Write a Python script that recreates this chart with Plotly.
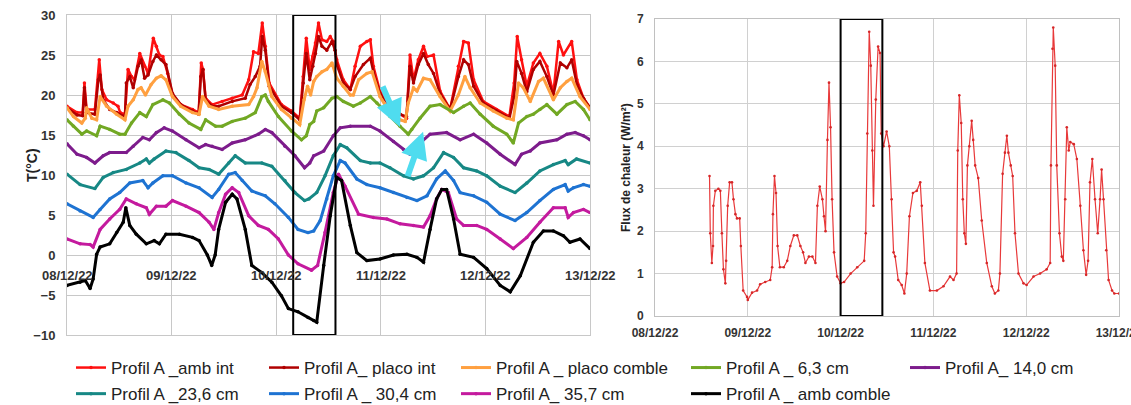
import plotly.graph_objects as go

W, H = 1131, 405

# ---------------- data ----------------
day_hours = [0, 24, 48, 72, 96, 120]
day_labels = ["08/12/22", "09/12/22", "10/12/22", "11/12/22", "12/12/22", "13/12/22"]

names = ["Profil A _amb int", "Profil A_ placo int", "Profil A _ placo comble",
         "Profil A _ 6,3 cm", "Profil A_ 14,0 cm", "Profil A _23,6 cm",
         "Profil A _ 30,4 cm", "Profil A_ 35,7 cm", "Profil A _ amb comble"]

amb_int_h = [0, 2.3, 3.6, 4.0, 4.5, 6.4, 7.4, 8.0, 9.1, 10.6, 11.7, 12.2, 13.3, 14.0, 14.8, 15.5, 16.7, 17.8, 18.6, 19.8,
             20.5, 21.2, 22.0, 23.1, 24.2, 26.1, 28.8, 30.2, 30.8, 31.2, 31.8, 33.3, 35.6, 37.9, 40.2, 41.7, 42.8, 43.9, 44.8, 45.5,
             46.4, 49.2, 51.5, 53.4, 54.2, 54.9, 55.7, 56.4, 57.0, 57.7, 58.5, 59.6, 60.4, 61.1, 61.9, 63.4, 65.0, 66.1, 67.3, 68.8,
             69.6, 70.3, 71.8, 74.1, 76.4, 77.9, 78.7, 79.5, 80.6, 81.8, 82.6, 84.1, 85.6, 87.9, 89.8, 91.0, 92.1, 93.3, 95.5, 98.5,
             101.5, 102.6, 103.3, 104.3, 105.5, 107.0, 108.5, 110.1, 111.6, 112.8, 113.9, 115.8, 117.0, 118.5, 120]
amb_int_t = [18.6, 17.8, 17.8, 21.5, 18.2, 18.2, 24.4, 20.7, 19.4, 19.0, 18.6, 17.8, 17.6, 23.2, 22.3, 21.9, 25.2, 23.6, 22.7, 27.1,
             26.1, 25.0, 24.8, 22.7, 20.0, 18.8, 18.2, 17.8, 24.0, 23.2, 19.6, 18.8, 19.2, 19.6, 20.0, 21.9, 25.4, 25.2, 29.0, 26.1,
             21.5, 18.8, 18.0, 17.1, 22.3, 27.1, 23.2, 24.8, 26.5, 29.0, 26.9, 26.7, 27.3, 26.7, 24.4, 21.9, 20.7, 23.6, 26.1, 26.7,
             26.9, 23.6, 20.5, 18.6, 17.6, 17.1, 25.0, 21.9, 24.4, 26.1, 24.8, 25.0, 20.5, 18.2, 23.6, 26.7, 26.5, 21.9, 19.2, 18.2,
             17.3, 21.5, 27.3, 24.4, 21.1, 24.0, 25.2, 23.6, 20.2, 26.7, 25.0, 26.7, 21.9, 19.6, 18.4]

placo_int_h = [0, 2.3, 3.6, 4.0, 4.5, 6.4, 7.2, 7.6, 8.3, 9.8, 11.4, 13.3, 13.6, 14.4, 15.2, 16.3, 17.0, 17.8, 18.6, 19.7,
               20.5, 21.6, 22.7, 24.2, 26.1, 28.8, 30.2, 30.7, 31.2, 31.8, 33.3, 34.8, 37.9, 40.9, 42.0, 43.2, 44.3, 44.8, 45.5, 46.4,
               49.2, 51.5, 53.4, 54.2, 54.9, 55.7, 56.4, 57.0, 57.7, 58.5, 59.6, 60.8, 61.5, 61.9, 63.4, 65.0, 66.1, 68.0, 69.6, 70.3,
               71.8, 74.1, 76.4, 77.9, 78.7, 79.5, 80.6, 81.8, 82.9, 84.1, 85.6, 87.9, 89.8, 91.0, 92.1, 93.3, 95.5, 98.5, 101.5, 102.6,
               103.2, 104.3, 105.5, 107.0, 108.5, 110.1, 111.6, 113.2, 114.7, 115.8, 117.0, 118.5, 120]
placo_int_t = [18.4, 17.5, 17.4, 20.9, 17.8, 17.6, 21.9, 22.5, 19.4, 18.2, 17.8, 17.3, 21.5, 22.3, 20.9, 23.6, 24.4, 22.1, 22.5, 24.2,
               25.0, 24.4, 23.8, 20.2, 18.8, 18.0, 17.6, 22.3, 23.2, 19.4, 18.6, 18.6, 19.2, 19.6, 21.3, 22.3, 23.6, 27.3, 25.6, 21.1,
               18.6, 17.8, 16.9, 21.5, 25.2, 21.9, 23.6, 25.2, 27.3, 26.1, 25.6, 26.7, 25.6, 23.8, 21.5, 20.7, 22.3, 23.8, 24.6, 22.9,
               20.2, 18.6, 17.6, 17.3, 23.6, 21.5, 23.8, 25.2, 23.8, 22.7, 20.2, 18.2, 22.3, 24.4, 23.8, 21.1, 19.0, 18.0, 17.1, 19.8,
               24.2, 22.7, 20.4, 23.2, 24.2, 22.3, 20.0, 24.0, 23.4, 24.4, 21.3, 19.6, 18.4]

placo_comble_h = [0, 1.5, 3.4, 4.2, 4.5, 5.7, 6.8, 7.6, 9.1, 11.4, 13.3, 14.0, 15.2, 16.3, 17.0, 18.0, 19.3, 20.5, 21.6, 22.7,
                  24.2, 26.1, 28.8, 30.3, 31.1, 32.6, 34.8, 37.9, 41.7, 42.8, 43.6, 44.7, 45.5, 47.0, 49.2, 51.5, 53.4, 54.4, 55.2, 55.9,
                  56.6, 57.3, 58.5, 59.6, 60.8, 61.9, 63.4, 65.0, 65.7, 66.9, 68.8, 70.0, 71.8, 73.4, 76.4, 77.6, 78.3, 79.5, 80.3, 81.8,
                  83.3, 85.6, 87.9, 89.8, 91.3, 92.5, 94.8, 97.8, 100.9, 102.4, 103.6, 104.7, 106.3, 108.2, 109.3, 111.6, 113.2, 114.7,
                  115.8, 117.7, 120]
placo_comble_t = [18.4, 17.3, 16.5, 17.1, 18.4, 17.1, 16.9, 19.8, 18.6, 17.6, 16.9, 18.6, 19.4, 20.7, 20.9, 20.0, 21.3, 22.1, 22.4, 21.9,
                  19.8, 18.6, 17.8, 17.6, 19.8, 18.6, 18.2, 18.6, 18.8, 19.8, 20.9, 24.2, 22.9, 19.8, 18.2, 17.1, 16.3, 19.4, 21.1, 20.0,
                  21.7, 22.3, 22.9, 23.2, 24.0, 22.1, 21.1, 20.0, 20.0, 21.9, 22.7, 22.9, 19.8, 18.4, 16.9, 16.7, 19.0, 20.9, 20.5, 22.1,
                  21.9, 19.8, 18.0, 20.0, 22.3, 20.9, 19.0, 18.0, 17.1, 16.9, 21.5, 20.9, 19.2, 21.7, 22.1, 19.4, 20.9, 21.7,
                  22.1, 19.8, 18.2]

cm63_h = [0, 1.5, 3.4, 4.5, 6.8, 7.6, 9.8, 12.1, 13.3, 14.8, 16.7, 18.2, 19.7, 22.0, 23.5, 25.8, 28.0, 30.7, 31.8, 34.1,
          35.6, 37.9, 40.9, 43.2, 44.7, 45.5, 46.2, 48.5, 51.5, 53.8, 54.9, 55.7, 56.6, 57.3, 58.9, 60.8, 61.9, 63.4, 65.7, 67.3,
          69.6, 71.1, 74.1, 76.4, 78.3, 79.1, 81.0, 83.3, 85.6, 88.7, 91.0, 92.5, 94.8, 97.8, 100.9, 102.4, 103.6, 105.5, 107.0, 108.5,
          110.1, 112.4, 114.7, 116.6, 118.5, 120]
cm63_t = [16.9, 16.1, 15.1, 15.5, 14.9, 16.1, 15.7, 15.1, 15.1, 16.5, 17.8, 17.3, 18.8, 19.4, 19.0, 17.6, 16.5, 15.7, 16.9, 16.1,
          16.1, 16.7, 17.1, 17.8, 19.8, 20.0, 19.2, 17.3, 15.5, 14.4, 14.9, 16.3, 16.7, 18.0, 18.4, 19.6, 19.8, 19.2, 18.6, 19.0,
          19.8, 19.0, 17.3, 16.1, 15.1, 15.7, 17.1, 18.6, 18.8, 17.8, 18.6, 19.0, 17.6, 16.1, 15.1, 14.0, 16.5, 17.3, 17.6, 18.2,
          18.8, 17.6, 18.8, 19.2, 18.2, 16.9]

cm140_h = [0, 2.3, 4.5, 6.4, 8.3, 9.8, 13.6, 15.2, 17.4, 18.9, 20.5, 22.3, 24.2, 27.3, 30.3, 31.8, 33.3, 35.6, 37.9, 40.9,
           43.9, 45.5, 47.0, 50.0, 52.3, 54.5, 55.7, 56.6, 58.9, 61.1, 62.7, 65.0, 69.6, 71.8, 74.9, 77.2, 78.7, 81.0, 83.3, 87.1,
           90.2, 93.3, 96.3, 99.4, 102.8, 104.3, 106.3, 108.5, 112.4, 114.7, 116.6, 118.5, 120]
cm140_t = [13.9, 12.6, 12.2, 11.5, 12.4, 12.8, 12.8, 13.6, 14.7, 14.4, 15.3, 15.9, 15.5, 14.4, 13.4, 13.8, 13.6, 13.2, 14.0, 14.4,
           15.1, 15.7, 15.3, 13.6, 12.4, 10.9, 11.5, 12.4, 13.0, 14.9, 15.9, 16.1, 16.1, 15.5, 14.2, 13.2, 12.6, 14.0, 15.1, 15.3,
           14.4, 15.1, 14.0, 12.6, 11.3, 12.6, 13.0, 14.0, 14.4, 15.1, 15.3, 14.9, 14.4]

cm236_h = [0, 3.0, 6.4, 8.3, 10.6, 13.6, 16.7, 18.2, 18.9, 20.0, 22.7, 25.0, 28.0, 30.3, 32.6, 34.8, 37.1, 38.6, 40.9, 44.7,
           47.0, 50.0, 52.3, 54.5, 55.5, 57.3, 59.2, 61.1, 62.7, 64.2, 67.3, 69.6, 71.8, 74.1, 77.2, 79.5, 81.8, 84.1, 86.4, 88.7,
           91.0, 94.0, 96.3, 99.4, 102.8, 105.5, 108.5, 111.6, 114.3, 115.0, 116.9, 120]
cm236_t = [10.1, 8.8, 8.3, 9.7, 10.3, 10.7, 11.5, 12.0, 11.5, 12.0, 13.0, 12.8, 11.8, 10.9, 10.7, 10.1, 11.5, 12.4, 11.5, 11.5,
           11.1, 9.3, 7.8, 6.8, 7.0, 7.8, 9.9, 12.4, 13.8, 13.4, 11.8, 11.5, 11.5, 10.9, 9.9, 9.5, 9.9, 10.9, 12.8, 12.2,
           10.9, 10.5, 9.9, 8.6, 7.8, 9.0, 10.5, 11.3, 11.8, 11.3, 12.0, 11.5]

cm304_h = [0, 3.0, 6.0, 7.6, 9.8, 12.1, 14.4, 17.4, 18.6, 19.7, 22.0, 24.2, 27.3, 30.3, 33.3, 34.8, 37.1, 38.6, 40.2, 42.4,
           45.5, 47.7, 50.8, 53.0, 55.3, 56.6, 58.1, 59.6, 61.1, 62.7, 63.8, 66.5, 68.8, 71.8, 74.9, 78.0, 80.3, 82.6, 84.8, 86.8,
           88.7, 90.2, 93.3, 96.3, 99.4, 102.8, 105.5, 108.5, 111.6, 114.3, 115.0, 116.2, 118.5, 120]
cm304_t = [6.4, 5.5, 4.7, 5.7, 7.0, 7.8, 9.0, 9.3, 8.4, 9.0, 9.9, 9.9, 9.0, 8.4, 7.2, 8.2, 10.1, 10.3, 9.3, 8.0,
           7.4, 6.4, 4.7, 3.2, 2.8, 3.0, 4.3, 7.0, 9.9, 11.8, 11.5, 9.5, 8.8, 8.4, 7.8, 7.2, 6.8, 7.4, 9.5, 10.5,
           9.3, 7.8, 7.4, 6.6, 5.1, 4.3, 5.3, 6.8, 8.2, 8.8, 8.0, 8.4, 8.8, 8.6]

cm357_h = [0, 3.0, 5.3, 6.0, 7.6, 9.8, 12.1, 13.6, 15.9, 18.2, 18.9, 20.5, 22.7, 24.2, 27.3, 30.3, 32.6, 33.7, 34.8, 36.4,
           37.9, 39.4, 41.7, 43.9, 46.2, 48.5, 50.8, 53.0, 56.1, 57.5, 59.2, 61.1, 62.3, 63.8, 66.9, 70.3, 73.4, 76.4, 79.5, 81.8,
           83.3, 84.8, 86.0, 87.5, 89.4, 91.0, 94.0, 96.3, 99.4, 102.4, 105.5, 108.5, 111.6, 114.3, 115.0, 116.2, 118.5, 120]
cm357_t = [2.0, 1.4, 1.3, 1.0, 3.2, 4.5, 5.7, 7.0, 6.4, 5.9, 5.1, 6.1, 6.1, 6.8, 6.1, 5.3, 4.1, 3.2, 5.3, 7.6,
           8.4, 7.8, 4.9, 3.7, 3.2, 2.0, 0.0, -1.1, -1.9, -1.3, 2.8, 7.8, 10.1, 8.6, 5.1, 4.7, 4.5, 3.9, 3.7, 3.5,
           4.9, 7.0, 8.2, 7.8, 4.5, 3.7, 3.7, 3.2, 2.0, 0.8, 2.2, 4.1, 5.9, 5.9, 4.7, 5.3, 5.7, 5.3]

amb_comble_h = [0, 3.0, 4.2, 5.3, 6.0, 6.8, 7.6, 9.8, 11.4, 12.9, 13.5, 14.4, 15.9, 18.2, 20.0, 21.2, 22.7, 25.8, 28.8, 30.3,
                32.2, 33.2, 34.0, 34.8, 36.4, 37.9, 39.0, 40.9, 42.4, 44.7, 47.0, 49.2, 50.8, 53.0, 55.3, 56.6, 57.3, 58.9, 60.4, 61.9,
                63.0, 65.0, 66.5, 68.8, 71.8, 74.9, 78.0, 80.3, 81.8, 83.3, 84.8, 86.0, 87.1, 88.7, 90.2, 93.3, 96.3, 99.4, 101.7, 104.0,
                107.0, 109.3, 111.6, 113.9, 115.4, 117.7, 120]
amb_comble_t = [-3.8, -3.4, -3.2, -4.2, -3.0, 0.1, 1.0, 1.4, 2.8, 4.1, 5.9, 3.7, 2.6, 1.4, 1.8, 1.4, 2.6, 2.6, 2.2, 1.8,
                0.0, -1.3, 0.0, 3.2, 6.6, 7.6, 7.0, 3.2, -1.3, -2.2, -3.4, -5.1, -6.7, -7.1, -7.8, -8.2, -8.4, -1.3, 4.9, 9.7,
                9.3, 3.7, 0.3, -0.7, -0.5, 0.0, 0.1, -0.3, -0.9, 3.2, 7.0, 8.2, 8.2, 4.5, 0.1, -0.3, -1.7, -3.8, -4.6, -2.6,
                1.6, 3.0, 3.0, 2.4, 1.6, 2.0, 0.8]

flux_h = [14.1, 14.3, 14.7, 15.0, 15.1, 15.6, 16.4, 16.9, 17.3, 17.7, 18.2, 18.4, 18.8, 19.3, 19.9, 20.3, 20.8, 21.2, 21.9, 22.2,
          22.8, 23.8, 24.0, 25.1, 26.4, 27.2, 28.5, 29.8, 30.3, 30.5, 30.9, 31.3, 31.7, 32.3, 33.3, 34.2, 35.0, 35.9, 36.8, 37.6,
          38.3, 38.9, 39.8, 40.7, 41.5, 42.0, 42.6, 43.3, 43.7, 44.1, 44.6, 45.0, 45.4, 45.8, 46.3, 47.1, 48.0, 48.9, 50.6, 52.3,
          54.1, 54.5, 54.9, 55.4, 55.8, 56.2, 56.5, 57.1, 57.7, 58.2, 58.5, 59.1, 59.9, 60.6, 61.2, 61.7, 62.1, 62.9, 63.8, 64.5,
          65.1, 65.8, 66.7, 67.7, 68.6, 69.0, 69.8, 71.1, 72.9, 74.6, 76.3, 77.2, 78.0, 78.3, 78.7, 79.2, 79.6, 80.0, 80.4, 80.8,
          81.3, 81.9, 82.3, 82.8, 83.6, 84.5, 85.8, 87.1, 87.9, 88.8, 89.2, 89.9, 90.5, 91.0, 91.4, 92.0, 92.5, 93.1, 94.0, 95.3,
          96.1, 97.9, 99.6, 101.3, 102.2, 102.4, 102.8, 103.0, 103.5, 103.9, 104.6, 105.2, 105.6, 106.1, 106.5, 107.0, 107.4, 108.3,
          109.1, 110.0, 110.8, 111.5, 112.0, 112.5, 113.1, 113.8, 114.5, 115.1, 115.5, 116.0, 116.7, 117.3, 118.2, 118.8, 120]
flux_v = [3.3, 1.95, 1.25, 1.65, 2.6, 2.95, 3.0, 2.95, 1.95, 1.1, 0.77, 1.3, 2.6, 3.15, 3.15, 2.75, 2.4, 2.3, 2.3, 1.65,
          0.6, 0.45, 0.38, 0.55, 0.6, 0.75, 0.8, 0.85, 1.15, 2.4, 3.3, 2.9, 1.65, 1.15, 1.15, 1.3, 1.65, 1.9, 1.9, 1.65,
          1.5, 1.25, 1.4, 1.4, 1.25, 2.6, 3.05, 2.75, 2.35, 2.0, 4.15, 5.5, 4.45, 2.75, 1.5, 0.93, 0.77, 0.8, 1.0, 1.15,
          1.3, 1.95, 4.3, 6.7, 5.9, 3.9, 2.6, 5.1, 6.35, 6.2, 4.3, 4.0, 4.35, 4.0, 2.75, 1.5, 1.4, 0.85, 0.73, 0.53,
          1.0, 2.35, 2.9, 2.95, 3.15, 2.6, 1.25, 0.6, 0.6, 0.7, 0.93, 0.85, 1.0, 3.9, 5.2, 4.55, 2.75, 1.95, 1.7, 3.55,
          4.0, 4.6, 4.15, 3.55, 3.25, 2.25, 1.25, 0.7, 0.53, 0.6, 1.0, 3.35, 3.85, 4.25, 3.85, 3.55, 3.3, 1.95, 1.0, 0.77,
          0.73, 0.93, 1.0, 1.1, 1.25, 3.55, 6.3, 6.8, 5.9, 3.55, 1.95, 1.4, 1.3, 2.75, 4.45, 3.9, 4.1, 4.05,
          3.7, 2.6, 1.55, 0.97, 1.3, 3.15, 3.7, 2.75, 1.95, 2.75, 3.45, 2.75, 1.55, 0.85, 0.6, 0.53, 0.53]

# ---------------- styling ----------------
colors = ["#ff1010", "#b00000", "#ffa040", "#72a824", "#7d1c8c", "#178885", "#1e73d2", "#c41a9e", "#000000"]
series = [(amb_int_h, amb_int_t), (placo_int_h, placo_int_t), (placo_comble_h, placo_comble_t),
          (cm63_h, cm63_t), (cm140_h, cm140_t), (cm236_h, cm236_t), (cm304_h, cm304_t),
          (cm357_h, cm357_t), (amb_comble_h, amb_comble_t)]
# legend columns (Excel-style 5 columns x 2 rows)
legend_of = ["legend", "legend2", "legend3", "legend4", "legend5",
             "legend", "legend2", "legend3", "legend4"]

FONT = "Liberation Sans"
GRID = "#c8c8c8"

fig = go.Figure()
for i, (hh, vv) in enumerate(series):
    fig.add_trace(go.Scatter(
        x=hh, y=vv, name=names[i], mode="lines+markers",
        line=dict(color=colors[i], width=3 if i >= 2 else 2.5),
        marker=dict(size=3.5, color=colors[i]),
        xaxis="x", yaxis="y", legend=legend_of[i], legendgroup="g%d" % i))

fig.add_trace(go.Scatter(
    x=flux_h, y=flux_v, mode="lines+markers", showlegend=False,
    line=dict(color="#e8393a", width=1.2),
    marker=dict(size=2.6, color="#d62728"),
    xaxis="x2", yaxis="y2"))


def px(x):
    return x / W


def py(y):
    return 1 - y / H


fig.update_layout(
    width=W, height=H, margin=dict(l=0, r=0, t=0, b=0, autoexpand=False),
    paper_bgcolor="white", plot_bgcolor="white",
    font=dict(family=FONT, color="#222222"),
    xaxis=dict(domain=[px(67), px(590)], range=[0, 120], tickvals=day_hours, automargin=False,
               showticklabels=False, ticks="", showgrid=True, gridcolor=GRID, gridwidth=1,
               zeroline=False, showline=True, linecolor=GRID, mirror=True),
    yaxis=dict(domain=[py(335), py(15)], range=[-10, 30], dtick=5, automargin=False,
               tickfont=dict(family=FONT, size=13, color="#333333", weight="bold"),
               ticks="", ticklabelstandoff=8,
               showgrid=True, gridcolor=GRID, zeroline=False,
               showline=True, linecolor=GRID, mirror=True),
    xaxis2=dict(domain=[px(655), px(1119)], range=[0, 120], tickvals=day_hours, ticktext=day_labels,
                automargin=False, ticklabeloverflow="allow",
                tickfont=dict(family=FONT, size=12, color="#333333", weight="bold"), ticks="",
                showgrid=True, gridcolor="#d0d0d0", zeroline=False,
                showline=True, linecolor="#c0c0c0", mirror=True, anchor="y2", ticklabelstandoff=6),
    yaxis2=dict(domain=[py(316), py(19)], range=[0, 7], dtick=1, anchor="x2", automargin=False,
                tickfont=dict(family=FONT, size=12, color="#333333", weight="bold"), ticks="",
                showgrid=True, gridcolor="#d0d0d0", zeroline=False,
                showline=True, linecolor="#c0c0c0", mirror=True, ticklabelstandoff=8),
    showlegend=True,
)

leg_x = [71, 264, 456, 686, 905]
leg_common = dict(font=dict(family=FONT, size=17, color="#222222"), bgcolor="rgba(0,0,0,0)",
                  orientation="v", yanchor="top", xanchor="left", tracegroupgap=1, itemwidth=30)
for k, key in enumerate(["legend", "legend2", "legend3", "legend4", "legend5"]):
    fig.update_layout({key: dict(x=px(leg_x[k]), y=py(350), **leg_common)})

annotations = []
# date labels of left chart sit on the 0 line (Excel style)
for hv, lab in zip(day_hours, day_labels):
    annotations.append(dict(x=hv, y=0, xref="x", yref="y", text=lab, showarrow=False,
                            yshift=-20, font=dict(family=FONT, size=13, color="#333333", weight="bold")))
annotations.append(dict(x=px(22), y=py(165), xref="paper", yref="paper", text="T(°C)", textangle=-90,
                        showarrow=False, font=dict(family=FONT, size=14, color="#222222", weight="bold")))
annotations.append(dict(x=px(626), y=py(168), xref="paper", yref="paper", text="Flux de chaleur (W/m²)",
                        textangle=-90, showarrow=False,
                        font=dict(family=FONT, size=12, color="#222222", weight="bold")))
# cyan arrows
annotations.append(dict(x=76.4, y=16.0, xref="x", yref="y", ax=-18, ay=-42, showarrow=True,
                        arrowhead=2, arrowsize=0.9, arrowwidth=6, arrowcolor="#4fdcef", text=""))
annotations.append(dict(x=81.7, y=15.4, xref="x", yref="y", ax=-16, ay=46, showarrow=True,
                        arrowhead=2, arrowsize=0.9, arrowwidth=6, arrowcolor="#4fdcef", text=""))
fig.update_layout(annotations=annotations)

fig.update_layout(shapes=[
    dict(type="rect", xref="x", yref="y", x0=51.9, x1=61.6, y0=-10, y1=30,
         line=dict(color="black", width=2), fillcolor="rgba(0,0,0,0)"),
    dict(type="rect", xref="x2", yref="y2", x0=48, x1=58.8, y0=0, y1=7,
         line=dict(color="black", width=2), fillcolor="rgba(0,0,0,0)"),
])

fig.write_html("out.html", config={"displayModeBar": False},
               post_script="document.body.style.margin='0';document.body.style.overflow='hidden';")
